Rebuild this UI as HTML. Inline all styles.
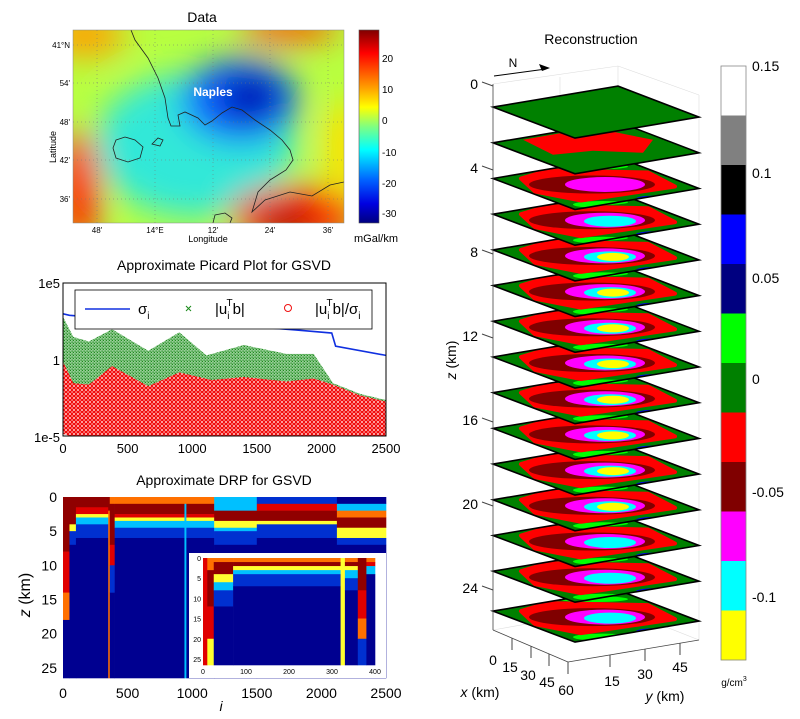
<!DOCTYPE html>
<html><head><meta charset="utf-8"><style>
html,body{margin:0;padding:0;background:#fff;}
svg{display:block;font-family:"Liberation Sans",Arial,sans-serif;}
</style></head><body>
<svg id="fig" width="800" height="719" viewBox="0 0 800 719" xmlns="http://www.w3.org/2000/svg">
<defs>
  <filter id="blur" x="-50%" y="-50%" width="200%" height="200%"><feGaussianBlur stdDeviation="16"/></filter>
  <clipPath id="mapclip"><rect x="73" y="30" width="271" height="193"/></clipPath>
  <clipPath id="picclip"><rect x="63" y="283" width="323" height="153"/></clipPath>
  <clipPath id="sliceclip"><polygon points="0,0 125,-21 206,10 82,31"/></clipPath>
  <linearGradient id="jet" x1="0" y1="0" x2="0" y2="1">
    <stop offset="0" stop-color="#800000"/><stop offset="0.12" stop-color="#ff0000"/>
    <stop offset="0.3" stop-color="#ffa000"/><stop offset="0.4" stop-color="#ffff00"/>
    <stop offset="0.5" stop-color="#80ff80"/><stop offset="0.62" stop-color="#00ffff"/>
    <stop offset="0.78" stop-color="#0060ff"/><stop offset="0.9" stop-color="#0000e0"/>
    <stop offset="1" stop-color="#000080"/>
  </linearGradient>
  <pattern id="xpat" width="3" height="3" patternUnits="userSpaceOnUse">
    <rect width="3" height="3" fill="#b0dcb0"/>
    <path d="M0.3,0.3 L2.5,2.5 M2.5,0.3 L0.3,2.5" stroke="#1a8a1a" stroke-width="0.7"/>
  </pattern>
  <pattern id="opat" width="4" height="4" patternUnits="userSpaceOnUse">
    <rect width="4" height="4" fill="#ffa8a8"/>
    <circle cx="2" cy="2" r="1.6" fill="none" stroke="#f00000" stroke-width="0.9"/>
  </pattern>
</defs>

<!-- MAP -->
<text x="202" y="22" font-size="14" text-anchor="middle">Data</text>
<g clip-path="url(#mapclip)">
  <rect x="73" y="30" width="271" height="193" fill="#b8ff40"/>
  <g filter="url(#blur)">
    <ellipse cx="195" cy="145" rx="100" ry="72" fill="#30e8d8"/>
    <ellipse cx="240" cy="100" rx="58" ry="42" fill="#1060ff"/>
    <ellipse cx="250" cy="98" rx="30" ry="24" fill="#0010b0"/>
    <ellipse cx="295" cy="215" rx="65" ry="28" fill="#ff2000"/>
    <ellipse cx="285" cy="222" rx="30" ry="12" fill="#900000"/>
    <ellipse cx="78" cy="190" rx="22" ry="60" fill="#ff3000"/>
    <ellipse cx="85" cy="35" rx="40" ry="22" fill="#ffa000"/>
    <ellipse cx="290" cy="28" rx="50" ry="14" fill="#ff5000"/>
    <ellipse cx="344" cy="150" rx="20" ry="50" fill="#ffe000"/>
  </g>
  <g stroke="#777" stroke-width="0.5" stroke-dasharray="1,3">
    <line x1="97" y1="30" x2="97" y2="223"/><line x1="155" y1="30" x2="155" y2="223"/><line x1="213" y1="30" x2="213" y2="223"/><line x1="270" y1="30" x2="270" y2="223"/><line x1="328" y1="30" x2="328" y2="223"/>
    <line x1="73" y1="45" x2="344" y2="45"/><line x1="73" y1="83" x2="344" y2="83"/><line x1="73" y1="122" x2="344" y2="122"/><line x1="73" y1="160" x2="344" y2="160"/><line x1="73" y1="199" x2="344" y2="199"/>
  </g>
  <path d="M131,30 L135,40 L148,58 L158,78 L165,98 L168,118 L171,126 L180,126 L178,115 L185,112 L198,118 L205,125 L212,121 L222,113 L232,107 L242,110 L255,120 L270,130 L282,140 L290,150 L293,160 L286,170 L270,180 L258,192 L252,212 L265,200 L290,192 L312,196 L330,185 L344,182" fill="none" stroke="#222" stroke-width="0.8"/>
  <path d="M116,140 L125,137 L135,140 L143,147 L140,158 L128,162 L116,158 L113,148 Z" fill="none" stroke="#222" stroke-width="0.8"/>
  <path d="M152,144 L158,138 L163,140 L160,146 Z" fill="none" stroke="#222" stroke-width="0.8"/>
  <path d="M213,223 L215,215 L225,213 L232,218 L230,223" fill="none" stroke="#222" stroke-width="0.8"/>
  <text x="213" y="96" font-size="12" font-weight="bold" fill="#fff" text-anchor="middle">Naples</text>
</g>
<rect x="73" y="30" width="271" height="193" fill="none" stroke="#888" stroke-width="0.5"/>
<g font-size="8" text-anchor="end">
  <text x="70" y="48">41°N</text><text x="70" y="86">54'</text><text x="70" y="125">48'</text><text x="70" y="163">42'</text><text x="70" y="202">36'</text>
</g>
<g font-size="8" text-anchor="middle">
  <text x="97" y="233">48'</text><text x="155" y="233">14°E</text><text x="213" y="233">12'</text><text x="270" y="233">24'</text><text x="328" y="233">36'</text>
</g>
<text x="208" y="242" font-size="9" text-anchor="middle">Longitude</text>
<text x="0" y="0" font-size="9" text-anchor="middle" transform="translate(56,147) rotate(-90)">Latitude</text>
<rect x="359" y="30" width="20" height="193" fill="url(#jet)" stroke="#555" stroke-width="0.6"/>
<g font-size="10">
  <text x="382" y="62">20</text><text x="382" y="93">10</text><text x="382" y="124">0</text><text x="382" y="156">-10</text><text x="382" y="187">-20</text><text x="382" y="217">-30</text>
</g>
<text x="376" y="242" font-size="11" text-anchor="middle">mGal/km</text>

<!-- PICARD -->
<text x="224" y="270" font-size="14" text-anchor="middle">Approximate Picard Plot for GSVD</text>
<g id="picard" clip-path="url(#picclip)"></g>
<rect x="63" y="283" width="323" height="153" fill="none" stroke="#000" stroke-width="1"/>
<g id="picardTicks" font-size="13"></g>
<g>
  <rect x="75" y="290" width="297" height="39" fill="#fff" stroke="#000" stroke-width="0.8"/>
  <line x1="85" y1="309" x2="130" y2="309" stroke="#1030e0" stroke-width="1.5"/>
  <text x="138" y="314" font-size="15">σ<tspan font-size="10" dy="5">i</tspan></text>
  <path d="M186,306 L191,311 M191,306 L186,311" stroke="#1a8a1a" stroke-width="1"/>
  <text x="215" y="314" font-size="15">|u<tspan font-size="10" dy="5">i</tspan><tspan font-size="10" dy="-13" dx="-3">T</tspan><tspan dy="8">b|</tspan></text>
  <circle cx="288" cy="308" r="3.5" fill="none" stroke="#f01010" stroke-width="1"/>
  <text x="315" y="314" font-size="15">|u<tspan font-size="10" dy="5">i</tspan><tspan font-size="10" dy="-13" dx="-3">T</tspan><tspan dy="8">b|/σ</tspan><tspan font-size="10" dy="5">i</tspan></text>
</g>

<!-- DRP -->
<text x="224" y="485" font-size="14" text-anchor="middle">Approximate DRP for GSVD</text>
<g id="drp"></g>
<g id="drpTicks" font-size="14"></g>
<text x="0" y="0" font-size="16" text-anchor="middle" transform="translate(30,595) rotate(-90)"><tspan font-style="italic">z</tspan> (km)</text>
<text x="221" y="711" font-size="14" font-style="italic" text-anchor="middle">i</text>
<rect x="189" y="553" width="197" height="125" fill="#fff"/>
<g id="inset"></g>
<g id="insetTicks" font-size="7"></g>

<!-- RECONSTRUCTION -->
<text x="591" y="44" font-size="14" text-anchor="middle">Reconstruction</text>
<g stroke="#ddd" stroke-width="0.6" fill="none">
  <line x1="618" y1="66" x2="618" y2="605"/><line x1="699" y1="95" x2="699" y2="640"/><line x1="560" y1="77" x2="560" y2="618"/>
  <line x1="493" y1="84" x2="618" y2="66"/><line x1="618" y1="66" x2="699" y2="95"/>
  <line x1="493" y1="630" x2="618" y2="608"/><line x1="618" y1="608" x2="699" y2="640"/>
</g>
<g id="slices"></g>
<g stroke="#444" stroke-width="0.8">
  <line x1="493" y1="84" x2="493" y2="630"/>
  <line x1="493" y1="630" x2="568" y2="662"/><line x1="568" y1="662" x2="699" y2="640"/>
</g>
<g id="zTicks" font-size="14" text-anchor="end"></g>
<text x="0" y="0" font-size="14" text-anchor="middle" transform="translate(456,360) rotate(-90)"><tspan font-style="italic">z</tspan> (km)</text>
<g font-size="14" text-anchor="middle">
  <text x="493" y="665">0</text><text x="510" y="672">15</text><text x="528" y="680">30</text><text x="547" y="687">45</text><text x="566" y="695">60</text>
  <line x1="512" y1="638" x2="512" y2="650" stroke="#444"/><line x1="531" y1="646" x2="531" y2="658" stroke="#444"/><line x1="549" y1="654" x2="549" y2="666" stroke="#444"/><line x1="568" y1="662" x2="568" y2="674" stroke="#444"/>
</g>
<g font-size="14" text-anchor="middle">
  <text x="612" y="686">15</text><text x="645" y="679">30</text><text x="680" y="672">45</text>
  <line x1="610" y1="655" x2="610" y2="667" stroke="#444"/><line x1="645" y1="649" x2="645" y2="661" stroke="#444"/><line x1="680" y1="643" x2="680" y2="655" stroke="#444"/>
</g>
<text x="480" y="697" font-size="14" text-anchor="middle"><tspan font-style="italic">x</tspan> (km)</text>
<text x="665" y="701" font-size="14" text-anchor="middle"><tspan font-style="italic">y</tspan> (km)</text>
<g>
  <text x="513" y="67" font-size="12" text-anchor="middle">N</text>
  <line x1="494" y1="76" x2="546" y2="69" stroke="#000" stroke-width="1"/>
  <path d="M550,68 L539,64 L542,71 Z" fill="#000"/>
</g>
<g id="cbar"></g>
<g font-size="14">
  <text x="752" y="71">0.15</text><text x="752" y="178">0.1</text><text x="752" y="283">0.05</text><text x="752" y="384">0</text><text x="752" y="497">-0.05</text><text x="752" y="602">-0.1</text>
</g>
<text x="734" y="686" font-size="10" text-anchor="middle">g/cm<tspan font-size="7" dy="-5">3</tspan></text>
</svg>
<script>
// ---------- Picard data (log10 values) ----------
const sigI = [0, 50, 500, 1000, 1500, 1800, 2080, 2110, 2500];
const sigL = [3.0, 2.9, 2.6, 2.35, 2.15, 1.95, 1.75, 0.9, 0.3];
const grnI = [0, 80, 200, 380, 660, 900, 1110, 1400, 1730, 1940, 2090, 2300, 2500];
const grnHi = [2.8, 1.5, 1.2, 2.0, 0.6, 1.8, 0.3, 0.97, 0.4, 0.4, -1.5, -2.2, -2.6];
const grnLo = [-2.5, -3.0, -3.2, -3.0, -3.2, -3.0, -3.2, -3.0, -3.2, -3.0, -3.1, -3.1, -3.2];
const redI = [0, 80, 200, 380, 660, 900, 1150, 1400, 1730, 1940, 2090, 2300, 2500];
const redHi = [-0.1, -1.5, -1.6, -0.4, -1.7, -0.8, -1.3, -1.1, -1.4, -1.2, -1.6, -2.3, -2.7];
const redLo = [-4.8, -5.0, -5.0, -5.0, -5.0, -5.0, -5.0, -5.0, -5.0, -5.0, -5.0, -5.0, -4.9];
const picXTicks = [0, 500, 1000, 1500, 2000, 2500];
const picYTicks = [5, 0, -5];
const picYLabels = ["1e5", "1", "1e-5"];

// ---------- DRP data: segments with layered bands [depthEnd, colorIdx] ----------
const drpColors = ["#000090", "#0030d0", "#00c0ff", "#ffff30", "#ff7000", "#e00000", "#900000", "#70ff90"];
const drpStart = [0, 50, 100, 350, 362, 400, 940, 955, 1170, 1500, 2120];
const drpEnd   = [50, 100, 350, 362, 400, 940, 955, 1170, 1500, 2120, 2500];
const drpBands = [
  [[8,6],[14,5],[18,4],[26.5,0]],
  [[4,6],[5,3],[7,1],[26.5,0]],
  [[1.5,6],[2.5,5],[3,3],[4,2],[6,1],[26.5,0]],
  [[2,6],[26.5,4]],
  [[1,4],[7,6],[10,5],[14,1],[26.5,0]],
  [[1,4],[2.5,6],[3,5],[3.5,3],[4.5,2],[6,1],[26.5,0]],
  [[1,4],[26.5,2]],
  [[1,4],[2.5,6],[3,5],[3.5,3],[4.5,2],[6,1],[26.5,0]],
  [[2,2],[3.5,6],[4.5,3],[5,2],[7,1],[26.5,0]],
  [[1,1],[2,5],[3.5,6],[4,3],[6,1],[26.5,0]],
  [[1,0],[2,2],[3,4],[4.5,6],[6,3],[7,1],[26.5,0]]
];
const drpXTicks = [0, 500, 1000, 1500, 2000, 2500];
const drpYTicks = [0, 5, 10, 15, 20, 25];
// inset
const insStart = [0, 10, 25, 70, 320, 330, 360, 380];
const insEnd   = [10, 25, 70, 320, 330, 360, 380, 400];
const insBands = [
  [[26.5,5]],
  [[3,4],[12,6],[20,5],[26.5,3]],
  [[1,4],[4,6],[6,3],[8,2],[12,1],[26.5,0]],
  [[1,4],[2,6],[3,3],[4,2],[7,1],[26.5,0]],
  [[26.5,3]],
  [[1,4],[2,6],[3,3],[5,2],[8,1],[26.5,0]],
  [[8,6],[15,5],[20,4],[26.5,1]],
  [[1,4],[2,5],[4,2],[26.5,0]]
];
const insXTicks = [0, 100, 200, 300, 400];
const insYTicks = [0, 5, 10, 15, 20, 25];

// ---------- Reconstruction ----------
const sliceDepth = [1.1, 2.8, 4.5, 6.2, 7.9, 9.6, 11.3, 13.0, 14.7, 16.4, 18.1, 19.8, 21.5, 23.2, 25.1];
const sliceLevels = [0, 1, 3, 4, 5, 5, 5, 5, 5, 5, 5, 5, 4, 4, 4];
const zTicks = [0, 4, 8, 12, 16, 20, 24];
const cbarColors = ["#ffffff", "#808080", "#000000", "#0000ff", "#000080", "#00ff00", "#008000", "#ff0000", "#800000", "#ff00ff", "#00ffff", "#ffff00"];

const NS = "http://www.w3.org/2000/svg";
function mk(parent, tag, attrs, name) {
  const e = document.createElementNS(NS, tag);
  for (const k in attrs) e.setAttribute(k, attrs[k]);
  
  
  parent.appendChild(e);
  return e;
}

// Picard
const xP = i => 63 + i / 2500 * 323;
const yP = l => 360 - l * 15.4;
const pic = document.getElementById('picard');
function band(I, hi, lo, fill, name) {
  let pts = I.map((v, k) => xP(v) + "," + yP(hi[k]));
  for (let k = I.length - 1; k >= 0; k--) pts.push(xP(I[k]) + "," + yP(lo[k]));
  mk(pic, 'polygon', {points: pts.join(" "), fill: fill}, name);
}
band(grnI, grnHi, grnLo, "url(#xpat)", "utb-points");
band(redI, redHi, redLo, "url(#opat)", "utb-over-sigma-points");
mk(pic, 'polyline', {points: sigI.map((v, k) => xP(v) + "," + yP(sigL[k])).join(" "), fill: "none", stroke: "#1030e0", "stroke-width": 1.6}, "sigma-line");
const pt = document.getElementById('picardTicks');
picXTicks.forEach(v => {
  const t = mk(pt, 'text', {x: xP(v), y: 453, "text-anchor": "middle"}, "picard-x-tick");
  t.textContent = v;
});
picYTicks.forEach((v, k) => {
  const t = mk(pt, 'text', {x: 60, y: yP(v) + 5, "text-anchor": "end"}, "picard-y-tick");
  t.textContent = picYLabels[k];
});

// DRP
function heat(g, starts, ends, bands, x0, x1, xmax, y0, y1, zmax, nm) {
  const xs = i => x0 + i / xmax * (x1 - x0);
  const ys = z => y0 + z / zmax * (y1 - y0);
  starts.forEach((s, k) => {
    let prev = 0;
    bands[k].forEach(b => {
      mk(g, 'rect', {x: xs(s), y: ys(prev), width: xs(ends[k]) - xs(s) + 0.3, height: ys(b[0]) - ys(prev) + 0.3, fill: drpColors[b[1]]}, nm);
      prev = b[0];
    });
  });
  return [xs, ys];
}
const [xD, yD] = heat(document.getElementById('drp'), drpStart, drpEnd, drpBands, 63, 386, 2500, 497, 678, 26.5, "drp-cell");
const dt = document.getElementById('drpTicks');
drpXTicks.forEach(v => { const t = mk(dt, 'text', {x: xD(v), y: 698, "text-anchor": "middle"}, "drp-x-tick"); t.textContent = v; });
drpYTicks.forEach(v => { const t = mk(dt, 'text', {x: 57, y: yD(v) + 5, "text-anchor": "end"}, "drp-y-tick"); t.textContent = v; });
const [xI, yI] = heat(document.getElementById('inset'), insStart, insEnd, insBands, 203, 375, 400, 558, 665, 26.5, "inset-cell");
const it = document.getElementById('insetTicks');
insXTicks.forEach(v => { const t = mk(it, 'text', {x: xI(v), y: 674, "text-anchor": "middle"}, "inset-x-tick"); t.textContent = v; });
insYTicks.forEach(v => { const t = mk(it, 'text', {x: 201, y: yI(v) + 3, "text-anchor": "end"}, "inset-y-tick"); t.textContent = v; });

// Slices (contours drawn in screen space relative to slice's left vertex)
const zY = z => 84 + z * 21;
const sl = document.getElementById('slices');
const lvl = [
  {cx: 99, cy: 6, rx: 63, ry: 9, c: "#800000"},
  {cx: 112, cy: 6, rx: 40, ry: 7.5, c: "#ff00ff"},
  {cx: 117, cy: 7, rx: 26, ry: 5.5, c: "#00ffff"},
  {cx: 120, cy: 7, rx: 16, ry: 4, c: "#ffff00"}
];
for (let k = sliceDepth.length - 1; k >= 0; k--) {
  const Ly = zY(sliceDepth[k]);
  const g = mk(sl, 'g', {transform: `translate(493,${Ly})`}, "slice");
  const inner = mk(g, 'g', {"clip-path": "url(#sliceclip)"}, "slice-contours");
  mk(inner, 'polygon', {points: "0,0 125,-21 206,10 82,31", fill: "#008000"}, "slice-background");
  if (sliceLevels[k] >= 2) {
    mk(inner, 'ellipse', {cx: 100, cy: -12, rx: 35, ry: 3, fill: "#00ff00"}, "slice-edge-positive");
    mk(inner, 'ellipse', {cx: 110, cy: 26, rx: 30, ry: 3.5, fill: "#00ff00"}, "slice-edge-positive");
    mk(inner, 'ellipse', {cx: 165, cy: 20, rx: 22, ry: 3, fill: "#0000ff"}, "slice-edge-blue");
    mk(inner, 'polygon', {points: "28,0 55,-8 155,-6 182,8 88,22 42,13", fill: "#ff0000", stroke: "#ff0000", "stroke-width": 4, "stroke-linejoin": "round"}, "slice-red-region");
    for (let j = 0; j < sliceLevels[k] - 1; j++) {
      const e = lvl[j];
      mk(inner, 'ellipse', {cx: e.cx, cy: e.cy, rx: e.rx, ry: e.ry, fill: e.c}, "slice-contour");
    }
  } else if (sliceLevels[k] === 1) {
    mk(inner, 'polygon', {points: "30,-3 70,-10 100,-15 160,-3 150,10 100,8 60,12", fill: "#ff0000"}, "slice-red-patch");
  }
  mk(g, 'polygon', {points: "0,0 125,-21 206,10 82,31", fill: "none", stroke: "#000", "stroke-width": 1.6}, "slice-border");
}
const zt = document.getElementById('zTicks');
zTicks.forEach(v => {
  const t = mk(zt, 'text', {x: 478, y: zY(v) + 5}, "z-tick");
  t.textContent = v;
  mk(zt, 'line', {x1: 482, y1: zY(v) - 2, x2: 493, y2: zY(v) + 2, stroke: "#444"}, "z-tick-mark");
});
const cb = document.getElementById('cbar');
const cbH = (660 - 66) / cbarColors.length;
cbarColors.forEach((c, k) => {
  mk(cb, 'rect', {x: 721, y: 66 + k * cbH, width: 25, height: cbH + 0.3, fill: c}, "colorbar-band");
});
mk(cb, 'rect', {x: 721, y: 66, width: 25, height: 594, fill: "none", stroke: "#888", "stroke-width": 0.8}, "colorbar-frame");
</script>
</body></html>
